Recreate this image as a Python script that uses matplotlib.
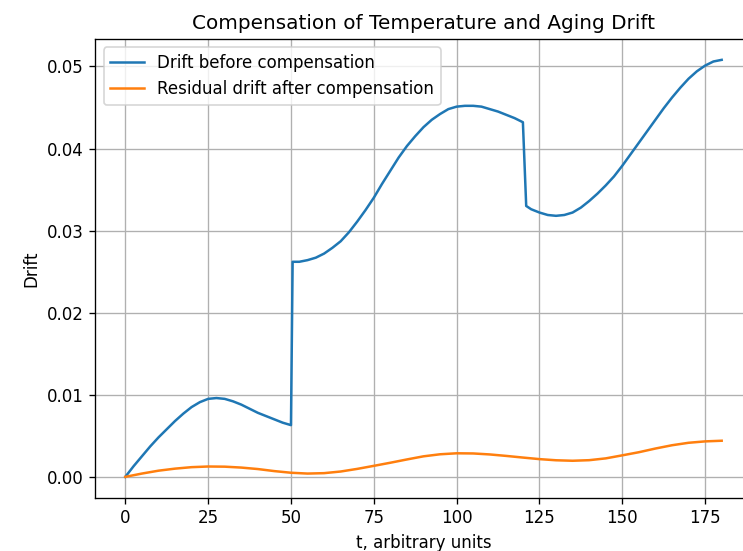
import matplotlib
matplotlib.use('Agg')
import matplotlib.pyplot as plt

# drift before compensation (jumps at t=50 and t=120)
t_before = [0, 2.5, 5, 7.5, 10, 12.5, 15, 17.5, 20, 22.5, 25, 27.5, 30, 32.5, 35, 37.5, 40, 42.5, 45, 47.5, 50,
            50.5, 52.5, 55, 57.5, 60, 62.5, 65, 67.5, 70, 72.5, 75, 77.5, 80, 82.5, 85, 87.5, 90, 92.5, 95,
            97.5, 100, 102.5, 105, 107.5, 110, 112.5, 115, 117.5, 120,
            121, 122.5, 125, 127.5, 130, 132.5, 135, 137.5, 140, 142.5, 145, 147.5, 150, 152.5, 155, 157.5,
            160, 162.5, 165, 167.5, 170, 172.5, 175, 177.5, 180]
drift_before = [0.0, 0.0013, 0.0025, 0.0037, 0.0048, 0.0058, 0.0068, 0.0077, 0.0085, 0.0091, 0.0095,
                0.0096, 0.0095, 0.0092, 0.0088, 0.0083, 0.0078, 0.0074, 0.0070, 0.0066, 0.0063,
                0.0262, 0.0262, 0.0264, 0.0267, 0.0272, 0.0279, 0.0287, 0.0298, 0.0311, 0.0325, 0.0340,
                0.0357, 0.0373, 0.0389, 0.0403, 0.0415, 0.0426, 0.0435, 0.0442, 0.0448, 0.0451, 0.0452,
                0.0452, 0.0451, 0.0448, 0.0445, 0.0441, 0.0437, 0.0432,
                0.0330, 0.0326, 0.0322, 0.0319, 0.0318, 0.0319, 0.0322, 0.0328, 0.0336, 0.0345, 0.0355,
                0.0366, 0.0379, 0.0393, 0.0407, 0.0421, 0.0435, 0.0449, 0.0462, 0.0474, 0.0485, 0.0494,
                0.0501, 0.0506, 0.0508]

# residual drift after compensation
t_after = [0, 5, 10, 15, 20, 25, 30, 35, 40, 45, 50, 55, 60, 65, 70, 75, 80, 85, 90,
           95, 100, 105, 110, 115, 120, 125, 130, 135, 140, 145, 150, 155, 160, 165, 170, 175, 180]
drift_after = [0.0, 0.00040, 0.00075, 0.00100, 0.00118, 0.00126, 0.00124, 0.00113, 0.00095,
               0.00070, 0.00050, 0.00040, 0.00045, 0.00065, 0.00097, 0.00134, 0.00172, 0.00212,
               0.00250, 0.00275, 0.00287, 0.00285, 0.00273, 0.00255, 0.00235, 0.00216, 0.00202,
               0.00196, 0.00203, 0.00225, 0.00262, 0.00300, 0.00345, 0.00385, 0.00415, 0.00432,
               0.00440]

fig = plt.figure(figsize=(743 / 120, 551 / 120), dpi=120)
ax = fig.add_axes([95.5 / 743, (551 - 497.7) / 551, 656 / 743, (497.7 - 39) / 551])

ax.plot(t_before, drift_before, label='Drift before compensation')
ax.plot(t_after, drift_after, label='Residual drift after compensation')
ax.set_xlabel('t, arbitrary units')
ax.set_ylabel('Drift')
ax.set_title('Compensation of Temperature and Aging Drift')
ax.grid(True)
ax.legend(loc='upper left')

fig.savefig('out.png', dpi=120)
